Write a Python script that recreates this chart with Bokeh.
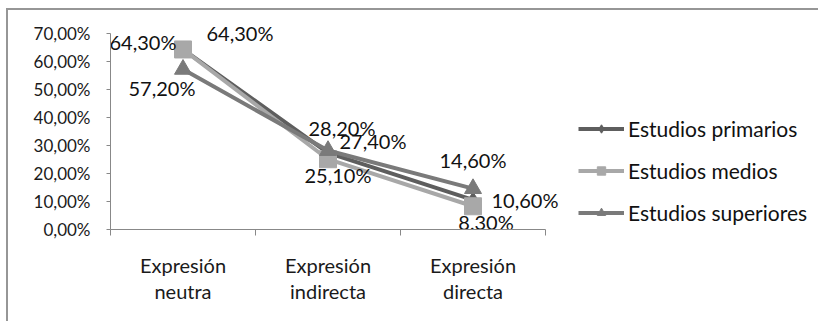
from bokeh.plotting import figure
from bokeh.models import (ColumnDataSource, FixedTicker, Legend, LegendItem,
                          LinearAxis, Range1d)
from bokeh.core.properties import value
from bokeh.embed import file_html
from bokeh.resources import INLINE

categories = ["Expresión\nneutra", "Expresión\nindirecta", "Expresión\ndirecta"]
series_names = ["Estudios primarios", "Estudios medios", "Estudios superiores"]
primarios = [64.3, 27.4, 10.6]
medios = [64.3, 25.1, 8.3]
superiores = [57.2, 28.2, 14.6]
y_ticks = [0, 10, 20, 30, 40, 50, 60, 70]
y_tick_labels = ["0,00%", "10,00%", "20,00%", "30,00%", "40,00%", "50,00%", "60,00%", "70,00%"]

FONT = "Lato"
colors = ["#5e5e5e", "#a8a8a8", "#7a7a7a"]
markers = ["diamond", "square", "triangle"]
msizes = [15, 17, 17]
# label offsets (screen px) per series, per category
label_dx = [[57, 45, 52], [-40, 10, 13], [-21, 14, 0]]
label_dy = [[-16, -12, 0], [-7, 16, 16], [19, -23, -29]]

xs = [0.5, 1.5, 2.5]

# page geometry: chart border at x=6..8, y=8..10; plot area x 110..545, y 33..229
OX, OY = 8, 10
W, H = 820 - OX, 323 - OY
px_per_cat = (545 - 110) / 3
px_per_pct = (229 - 33) / 70

p = figure(width=W, height=H, output_backend="svg", toolbar_location=None,
           x_range=Range1d(0, 3 + (820 - 545) / px_per_cat),
           y_range=Range1d(0, 70 + (33 - OY) / px_per_pct),
           min_border_left=110 - OX, min_border_right=0, min_border_top=0,
           min_border_bottom=H - (229 - OY), x_axis_location=None, y_axis_location=None)
p.outline_line_color = None
p.grid.visible = False
p.background_fill_color = "white"
p.border_fill_color = "white"
p.styles = {"margin-left": "6px", "margin-top": "8px",
            "border-left": "2px solid #969696", "border-top": "2px solid #969696"}

# y axis
yax = LinearAxis(ticker=FixedTicker(ticks=y_ticks), bounds=(0, 70),
                 major_label_overrides={t: l for t, l in zip(y_ticks, y_tick_labels)})
yax.axis_line_color = "#888888"
yax.major_tick_line_color = "#888888"
yax.major_tick_out = 4
yax.major_tick_in = 0
yax.minor_tick_line_color = None
yax.major_label_standoff = 16
yax.major_label_text_font = FONT
yax.major_label_text_font_size = "17px"
yax.major_label_text_color = "#1a1a1a"
p.add_layout(yax, "left")

# x axis
xax = LinearAxis(ticker=FixedTicker(ticks=xs, minor_ticks=[0, 1, 2, 3]), bounds=(0, 3),
                 major_label_overrides={x: c for x, c in zip(xs, categories)})
xax.axis_line_color = "#888888"
xax.major_tick_line_color = None
xax.minor_tick_line_color = "#888888"
xax.minor_tick_out = 6
xax.minor_tick_in = 0
xax.major_label_standoff = 17
xax.major_label_text_font = FONT
xax.major_label_text_font_size = "20px"
xax.major_label_text_color = "#1a1a1a"
xax.major_label_text_line_height = 1.1
p.add_layout(xax, "below")

items = []
for i, (name, vals) in enumerate(zip(series_names, [primarios, medios, superiores])):
    src = ColumnDataSource(dict(x=xs, y=vals))
    ln = p.line("x", "y", source=src, line_color=colors[i], line_width=4)
    mk = p.scatter("x", "y", source=src, marker=markers[i], size=msizes[i],
                   fill_color=colors[i], line_color=colors[i])
    items.append(LegendItem(label=name, renderers=[ln, mk]))

for i, vals in enumerate([primarios, medios, superiores]):
    labels = [f"{v:.2f}".replace(".", ",") + "%" for v in vals]
    src = ColumnDataSource(dict(x=xs, y=vals, t=labels, dx=label_dx[i], dy=label_dy[i]))
    p.text("x", "y", text="t", source=src, x_offset="dx", y_offset="dy",
           text_align="center", text_baseline="middle",
           text_font=value(FONT), text_font_size="20px", text_color="#111111")

legend = Legend(items=items, location=(578 - 110, 229 - 225), orientation="vertical")
legend.padding = 0
legend.margin = 0
legend.spacing = 17
legend.glyph_width = 46
legend.glyph_height = 21
legend.label_height = 21
legend.label_standoff = 4
legend.label_text_font = FONT
legend.label_text_font_size = "21px"
legend.label_text_color = "#111111"
legend.border_line_color = None
legend.background_fill_color = None
p.add_layout(legend, "center")

open("out.html", "w").write(file_html(p, INLINE))
